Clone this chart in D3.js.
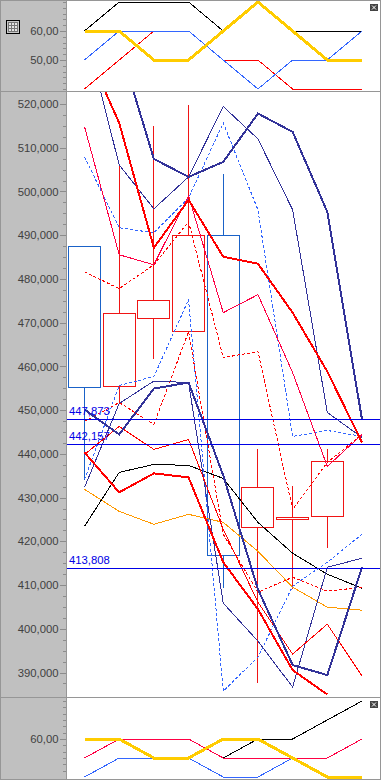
<!DOCTYPE html>
<html>
<head>
<meta charset="utf-8">
<style>
  html, body { margin: 0; padding: 0; background: white; overflow: hidden; }
  svg { display: block; }
  text { font-family: "Liberation Sans", sans-serif; font-size: 11px; }
</style>
<script src="https://cdn.jsdelivr.net/npm/d3@7"></script>
</head>
<body>
<div id="chart"></div>
<script>
// one slot per bar, left to right
const slots = d3.range(9);

// candles
const candleOpen = [487420, 455620, 471140, 468180, 490090, 423200, 425190, 425640, 436210];
const candleHigh = [487420, 506530, 515210, 520000, 504250, 441240, 432790, 441240, 436210];
const candleLow = [434160, 451740, 462010, 468180, 409500, 387810, 409270, 418630, 436210];
const candleClose = [455160, 472290, 475250, 490090, 416810, 432330, 425640, 438270, 436210];

// main panel lines (null = no value)
const navyUpperThick = [null, 533700, 507440, 503330, 506760, 517830, 513610, 495340, 447860];
const navyLowerThick = [450140, 444430, 454930, 456300, 435070, 409050, 391700, 389410, 414070];
const navyUpperThin = [537350, 506070, 496030, 503330, 519430, 512010, 495800, 449460, 443750];
const navyLowerThin = [432330, 451510, 456650, 456300, 405850, 397170, 386670, 414070, 416120];
const redUpperThick = [533470, 515660, 487120, 498080, 485070, 483470, 472290, 458820, 442610];
const redLowerThick = [440320, 431190, 435530, 434620, 415210, 404480, 390550, 384960, null];
const crimsonUpper = [514820, 485530, 483240, 499000, 472290, 476400, 458590, 437130, 444430];
const redLowerThin = [439870, 446260, 441010, 443290, 422740, 406080, 394210, 401060, 389180];
const redDashUpper = [481650, 477760, 483240, 493060, 462010, 463380, 427310, 438040, 444430];
const redDashLower = [447400, 451740, 446720, 467950, 421600, 408360, 411790, 408590, 409500];
const blueDashUpper = [507900, 491690, 490550, 498540, 515660, 495800, 443980, 445350, 443980];
const blueDashLower = [434160, 455620, 457670, 475250, 385760, 393520, 409730, 415210, 421600];
const blackMain = [423430, 435760, 437580, 437360, 434390, 424340, 417270, 412470, 409270];
const orangeMain = [431880, 426850, 423890, 426170, 424340, 417720, 409500, 404940, 404250];

const levels = [447873, 442157, 413808];

// top panel
const topBlack = [60, 70, 70, 70, 60, 70, 60, 60, 60];
const topRed = [40, 50, 60, 60, 50, 50, 40, 40, 40];
const topBlue = [50, 60, 60, 60, 50, 40, 50, 50, 60];
const topYellow = [60, 60, 50, 50, 60, 70, 60, 50, 50];

// bottom panel
const botBlack = [50, 60, 60, 60, 50, 60, 60, 70, 80];
const botBlue = [40, 50, 50, 50, 40, 40, 50, 50, 60];
const botCrimson = [50, 60, 60, 60, 50, 50, 50, 50, 60];
const botYellow = [60, 60, 50, 50, 60, 60, 50, 40, 40];

// tick labels
const topTicks = [60, 50];
const mainTicks = [520000, 510000, 500000, 490000, 480000, 470000, 460000, 450000, 440000, 430000, 420000, 410000, 400000, 390000];
const botTicks = [60];

const width = 381;
const height = 780;
const axisRight = 66;

const panels = {
    top: { y0: 1, y1: 91 },
    main: { y0: 92, y1: 697 },
    bot: { y0: 698, y1: 779 }
};

const xScale = d3.scalePoint(slots, [84.5, 362]);
const yTop = d3.scaleLinear([60, 50], [31, 60]);
const yMain = d3.scaleLinear([520000, 390000], [104, 672.5]);
const yBot = d3.scaleLinear([60, 50], [739, 758]);

// pixel snapping, the original draws on whole pixels
const snap = v => Math.round(v) + 0.5;

const svg = d3.select("#chart")
    .append("svg")
    .attr("width", width)
    .attr("height", height);

// grey axis column
svg.append("rect")
    .attr("x", 0).attr("y", 0)
    .attr("width", axisRight).attr("height", height)
    .style("fill", "#c0c0c0");

const defs = svg.append("defs");
Object.entries(panels).forEach(([name, p]) => {
    defs.append("clipPath").attr("id", "clip-" + name)
        .append("rect")
        .attr("x", axisRight + 1).attr("y", p.y0)
        .attr("width", width - axisRight - 2).attr("height", p.y1 - p.y0);
});

function drawAxis(scale, ticks, format, minorTicks) {
    const g = svg.append("g").attr("transform", "translate(" + axisRight + ",0)");

    g.append("g")
        .call(d3.axisLeft(scale).tickValues(minorTicks).tickSize(3).tickFormat(""))
        .call(a => a.select(".domain").remove())
        .selectAll("line").style("stroke", "#8c8c8c").attr("shape-rendering", "crispEdges");

    const major = g.append("g")
        .call(d3.axisLeft(scale).tickValues(ticks).tickSize(6.5).tickPadding(1).tickFormat(format))
        .call(a => a.select(".domain").remove());
    major.selectAll("line").style("stroke", "#8c8c8c").attr("shape-rendering", "crispEdges");
    major.selectAll("text").style("fill", "#404040").style("font-size", "11.3px");
}

drawAxis(yTop, topTicks, d => d + ",00", d3.range(40, 71, 2));
drawAxis(yMain, mainTicks, d3.format(","), d3.range(387500, 522500, 2500));
drawAxis(yBot, botTicks, d => d + ",00", d3.range(0, 12).map(k => 80 - k * 10 / 3).filter(v => v > 38));

function drawLine(layer, scale, values, color, lineWidth, dash) {
    const line = d3.line()
        .defined(d => d !== null)
        .x((d, i) => xScale(slots[i]))
        .y(d => scale(d));
    layer.append("path")
        .attr("d", line(values))
        .attr("shape-rendering", "crispEdges")
        .style("fill", "none")
        .style("stroke", color)
        .style("stroke-width", lineWidth)
        .style("stroke-dasharray", dash || null);
}

// top panel
const topLayer = svg.append("g").attr("clip-path", "url(#clip-top)");
drawLine(topLayer, yTop, topBlack, "#000000", 1);
drawLine(topLayer, yTop, topRed, "#ff0000", 1);
drawLine(topLayer, yTop, topBlue, "#3366ff", 1);
drawLine(topLayer, yTop, topYellow, "#ffcc00", 3);

// main panel
const mainLayer = svg.append("g").attr("clip-path", "url(#clip-main)");

const candles = mainLayer.selectAll("g.candle")
    .data(slots)
    .enter()
    .append("g")
    .attr("class", "candle")
    .attr("shape-rendering", "crispEdges");

const candleColor = d => candleClose[d] > candleOpen[d] ? "#f01414" : "#1a62c8";

candles.append("line")
    .attr("x1", d => snap(xScale(d) - 0.5))
    .attr("x2", d => snap(xScale(d) - 0.5))
    .attr("y1", d => snap(yMain(candleHigh[d])))
    .attr("y2", d => snap(yMain(candleLow[d])))
    .style("stroke", candleColor)
    .style("stroke-width", 1);

candles.append("rect")
    .attr("x", d => snap(xScale(d) - 16.5))
    .attr("width", 32)
    .attr("y", d => snap(yMain(Math.max(candleOpen[d], candleClose[d]))))
    .attr("height", d => Math.round(Math.abs(yMain(candleOpen[d]) - yMain(candleClose[d]))))
    .style("fill", "white")
    .style("stroke", candleColor)
    .style("stroke-width", 1);

drawLine(mainLayer, yMain, orangeMain, "#ff9900", 1);
drawLine(mainLayer, yMain, blackMain, "#000000", 1);
drawLine(mainLayer, yMain, blueDashUpper, "#3366ff", 1, "3,2");
drawLine(mainLayer, yMain, blueDashLower, "#3366ff", 1, "3,2");
drawLine(mainLayer, yMain, redDashUpper, "#ff0000", 1, "3,2");
drawLine(mainLayer, yMain, redDashLower, "#ff0000", 1, "3,2");
drawLine(mainLayer, yMain, navyUpperThin, "#333399", 1);
drawLine(mainLayer, yMain, navyLowerThin, "#333399", 1);
drawLine(mainLayer, yMain, crimsonUpper, "#ff0044", 1);
drawLine(mainLayer, yMain, redLowerThin, "#ff0000", 1);
drawLine(mainLayer, yMain, navyUpperThick, "#333399", 2);
drawLine(mainLayer, yMain, navyLowerThick, "#333399", 2);
drawLine(mainLayer, yMain, redUpperThick, "#ff0000", 2);
drawLine(mainLayer, yMain, redLowerThick, "#ff0000", 2);

// level lines with their labels
mainLayer.selectAll("line.level")
    .data(levels)
    .enter()
    .append("line")
    .attr("class", "level")
    .attr("x1", axisRight)
    .attr("x2", width)
    .attr("y1", d => snap(yMain(d) - 0.5))
    .attr("y2", d => snap(yMain(d) - 0.5))
    .attr("shape-rendering", "crispEdges")
    .style("stroke", "#0000e6");

mainLayer.selectAll("text.level-label")
    .data(levels)
    .enter()
    .append("text")
    .attr("class", "level-label")
    .attr("x", 69)
    .attr("y", d => yMain(d) - 4)
    .style("fill", "#0000e6")
    .style("font-size", "11.3px")
    .text(d3.format(","));

// bottom panel
const botLayer = svg.append("g").attr("clip-path", "url(#clip-bot)");
drawLine(botLayer, yBot, botBlack, "#000000", 1);
drawLine(botLayer, yBot, botBlue, "#3366ff", 1);
drawLine(botLayer, yBot, botCrimson, "#ff0044", 1);
drawLine(botLayer, yBot, botYellow, "#ffcc00", 3);

// frame and panel dividers
const frame = svg.append("g")
    .attr("shape-rendering", "crispEdges")
    .style("stroke", "#969696")
    .style("fill", "none");
frame.append("rect").attr("x", 0.5).attr("y", 0.5).attr("width", width - 1).attr("height", height - 1);
frame.append("line").attr("x1", axisRight + 0.5).attr("x2", axisRight + 0.5).attr("y1", 0).attr("y2", height);
frame.append("line").attr("x1", 0).attr("x2", width).attr("y1", panels.top.y1 + 0.5).attr("y2", panels.top.y1 + 0.5);
frame.append("line").attr("x1", 0).attr("x2", width).attr("y1", panels.main.y1 + 0.5).attr("y2", panels.main.y1 + 0.5);

// little table icon in the top axis column
const icon = svg.append("g")
    .attr("transform", "translate(6.5,20.5)")
    .attr("shape-rendering", "crispEdges");
icon.append("rect").attr("width", 13).attr("height", 13).style("fill", "#c8c8c8").style("stroke", "#000");
icon.append("rect").attr("x", 2).attr("y", 2).attr("width", 9).attr("height", 9).style("fill", "#e4e4e4").style("stroke", "#777");
[5, 8].forEach(v => {
    icon.append("line").attr("x1", v).attr("x2", v).attr("y1", 2).attr("y2", 11).style("stroke", "#777");
    icon.append("line").attr("x1", 2).attr("x2", 11).attr("y1", v).attr("y2", v).style("stroke", "#777");
});

// close buttons
[4, 701].forEach(y => {
    const btn = svg.append("g").attr("transform", "translate(370," + y + ")");
    btn.append("rect").attr("width", 8).attr("height", 7).style("fill", "#444");
    btn.append("path").attr("d", "M2,1.5L6,5.5M6,1.5L2,5.5").style("stroke", "white").style("fill", "none");
});
</script>
</body>
</html>
